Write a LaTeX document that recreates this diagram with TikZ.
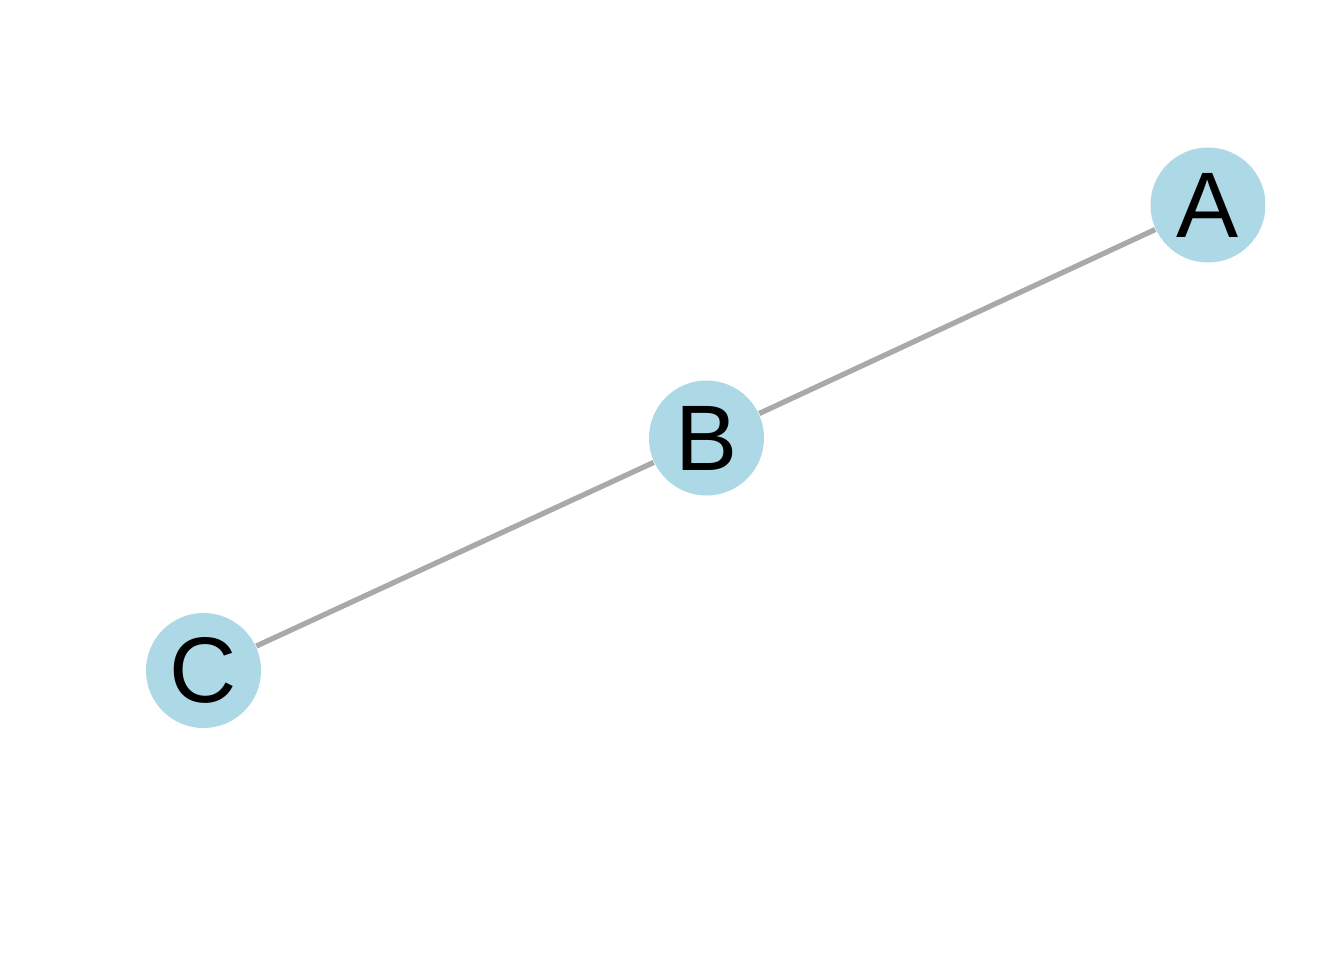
\documentclass[tikz,border=0pt]{standalone}
\usepackage{fontspec}
\setmainfont{Liberation Sans}
\usepackage{tikz}
\usepackage{color}
\definecolor{nodeblue}{RGB}{173, 216, 230}
\definecolor{edgegray}{RGB}{169, 169, 169}

\begin{document}
\begin{tikzpicture}[vertex/.style={circle, fill=nodeblue, inner sep=0pt, minimum size=1.15cm, font=\fontsize{26.5}{26.5}\selectfont},
                    link/.style={edgegray, line width=1.5pt}]
                \useasboundingbox (0,0) rectangle (13.44,9.6);
                \clip (0,0) rectangle (12.65,9.6);
                \node[vertex] (A) at (12.08,7.55) {A};
                \node[vertex] (B) at (7.065,5.22) {B};
                \node[vertex] (C) at (2.035,2.895) {C};
                \draw[link] (A) -- (B);
                \draw[link] (B) -- (C);
            \end{tikzpicture}
\end{document}
